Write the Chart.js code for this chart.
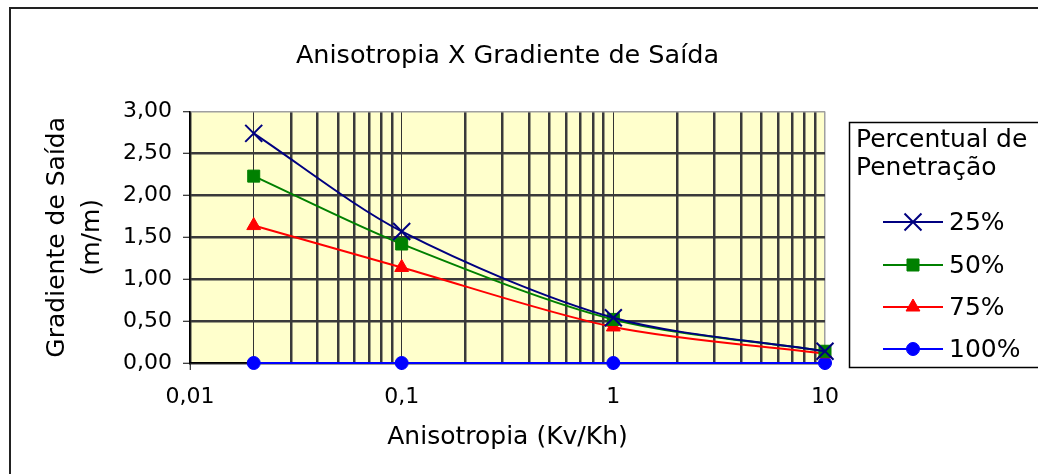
<!DOCTYPE html>
<html>
<head>
<meta charset="utf-8">
<title>Anisotropia X Gradiente de Saída</title>
<script src="https://cdn.jsdelivr.net/npm/chart.js@4/dist/chart.umd.min.js"></script>
<style>
  html, body { margin: 0; padding: 0; background: #fff; }
  #wrap { width: 1038px; height: 474px; }
</style>
</head>
<body>
<div id="wrap"><canvas id="gradChart" width="1038" height="474"></canvas></div>
<script>
// Kv/Kh values and exit gradient (m/m) for each penetration percentage
const anisotropia = [0.02, 0.1, 1, 10];
const grad25 = [2.74, 1.57, 0.54, 0.14];
const grad50 = [2.23, 1.42, 0.52, 0.14];
const grad75 = [1.64, 1.14, 0.43, 0.11];
const grad100 = [0, 0, 0, 0];
const seriesLabels = ['25%', '50%', '75%', '100%'];

// log axis: labelled decades and the minor gridlines between them
const xDecades = [0.01, 0.1, 1, 10];
const xTickLabels = ['0,01', '0,1', '1', '10'];
const xThinLines = [0.02, 0.1, 1];

const FONT = "'DejaVu Sans', Verdana, sans-serif";

function toPoints(ys) {
    return anisotropia.map((x, i) => ({ x: x, y: ys[i] }));
}

function minorTicks() {
    const out = [];
    for (let d = 0; d < xDecades.length - 1; d++) {
        for (let m = 1; m <= 9; m++) {
            out.push(+(xDecades[d] * m).toPrecision(3));
        }
    }
    out.push(xDecades[xDecades.length - 1]);
    return out;
}

function isDecade(v) {
    return xDecades.some(d => Math.abs(d - v) < 1e-9);
}

// Pale yellow plot area + outer frame
const plotBackground = {
    id: 'plotBackground',
    beforeDraw(chart) {
        const { ctx, chartArea: a } = chart;
        ctx.save();
        ctx.fillStyle = '#ffffff';
        ctx.fillRect(0, 0, chart.width, chart.height);
        ctx.fillStyle = '#FFFFCC';
        ctx.fillRect(a.left, a.top, a.right - a.left, a.bottom - a.top);
        ctx.strokeStyle = '#222';
        ctx.lineWidth = 2;
        ctx.strokeRect(10, 8, chart.width + 20, chart.height + 20);
        ctx.restore();
    }
};

// Boxed legend with a two-line heading, line + marker samples
const boxLegend = {
    id: 'boxLegend',
    afterDraw(chart) {
        const ctx = chart.ctx;
        ctx.save();
        ctx.fillStyle = '#fff';
        ctx.fillRect(849.5, 122.5, 220, 245);
        ctx.strokeStyle = '#000';
        ctx.lineWidth = 1.5;
        ctx.strokeRect(849.5, 122.5, 220, 245);

        ctx.fillStyle = '#000';
        ctx.font = '25px ' + FONT;
        ctx.textAlign = 'left';
        ctx.textBaseline = 'middle';
        ctx.fillText('Percentual de', 856, 140);
        ctx.fillText('Penetração', 856, 168);

        const rows = [222, 265, 307, 349];
        chart.data.datasets.forEach((ds, i) => {
            const y = rows[i];
            ctx.strokeStyle = ds.borderColor;
            ctx.lineWidth = 2;
            ctx.beginPath();
            ctx.moveTo(883, y);
            ctx.lineTo(943, y);
            ctx.stroke();
            ctx.fillStyle = ds.pointBackgroundColor;
            ctx.strokeStyle = ds.pointBorderColor;
            ctx.lineWidth = ds.pointBorderWidth;
            Chart.helpers.drawPoint(ctx, {
                pointStyle: ds.pointStyle,
                radius: ds.pointRadius,
                borderWidth: ds.pointBorderWidth,
                rotation: 0
            }, 913, y);
            ctx.fillStyle = '#000';
            ctx.fillText(ds.label, 949, y + 1);
        });
        ctx.restore();
    }
};

function series(label, ys, color, style, radius) {
    return {
        label: label,
        data: toPoints(ys),
        borderColor: color,
        backgroundColor: color,
        borderWidth: 2,
        pointStyle: style,
        pointRadius: radius,
        pointHoverRadius: radius,
        pointBackgroundColor: color,
        pointBorderColor: color,
        pointBorderWidth: style === 'crossRot' ? 2 : 1,
        tension: 0.3,
        clip: false
    };
}

new Chart(document.getElementById('gradChart'), {
    type: 'line',
    data: {
        datasets: [
            series(seriesLabels[0], grad25, '#000080', 'crossRot', 12),
            series(seriesLabels[1], grad50, '#008000', 'rect', 8.5),
            series(seriesLabels[2], grad75, '#FF0000', 'triangle', 8),
            series(seriesLabels[3], grad100, '#0000FF', 'circle', 6.5)
        ]
    },
    options: {
        responsive: false,
        animation: false,
        layout: { padding: { left: 0, right: 213, top: 0, bottom: 0 } },
        plugins: {
            legend: { display: false },
            tooltip: { enabled: false },
            title: {
                display: true,
                fullSize: false,
                text: 'Anisotropia X Gradiente de Saída',
                color: '#000',
                font: { family: FONT, size: 25.5, weight: 'normal', lineHeight: 1.2 },
                padding: { top: 41, bottom: 40 }
            }
        },
        scales: {
            x: {
                type: 'logarithmic',
                min: 0.01,
                max: 10,
                afterBuildTicks: (scale) => {
                    scale.ticks = minorTicks().map(v => ({ value: v }));
                },
                afterFit: (scale) => { scale.height = 111; },
                border: { display: true, color: '#000', width: 1.5 },
                grid: {
                    color: (c) => {
                        const v = c.tick && c.tick.value;
                        if (v === 10) return '#a0a0a0';
                        return xThinLines.includes(v) ? '#333' : '#3a3a3a';
                    },
                    lineWidth: (c) => {
                        const v = c.tick && c.tick.value;
                        if (v === 10) return 1.5;
                        return xThinLines.includes(v) ? 1 : 2.5;
                    },
                    tickColor: (c) => (c.tick && isDecade(c.tick.value)) ? '#000' : 'rgba(0,0,0,0)',
                    tickWidth: 1,
                    tickLength: 7
                },
                ticks: {
                    autoSkip: false,
                    maxRotation: 0,
                    padding: 14,
                    color: '#000',
                    font: { family: FONT, size: 22 },
                    callback: (v) => {
                        const i = xDecades.findIndex(d => Math.abs(d - v) < 1e-9);
                        return i >= 0 ? xTickLabels[i] : '';
                    }
                },
                title: {
                    display: true,
                    text: 'Anisotropia (Kv/Kh)',
                    color: '#000',
                    font: { family: FONT, size: 25, lineHeight: 1.2 },
                    padding: { top: 0, bottom: 22 }
                }
            },
            y: {
                min: 0,
                max: 3,
                afterFit: (scale) => { scale.width = 190; },
                border: { display: true, color: '#000', width: 1.5 },
                grid: {
                    color: (c) => (c.tick && c.tick.value === 3) ? '#a0a0a0' : '#3a3a3a',
                    lineWidth: (c) => (c.tick && c.tick.value === 3) ? 1.5 : 2.5,
                    tickColor: '#000',
                    tickWidth: 1,
                    tickLength: 7
                },
                ticks: {
                    stepSize: 0.5,
                    padding: 11,
                    color: '#000',
                    font: { family: FONT, size: 22 },
                    callback: (v) => v.toFixed(2).replace('.', ',')
                },
                title: {
                    display: true,
                    text: ['Gradiente de Saída', '(m/m)'],
                    color: '#000',
                    font: { family: FONT, size: 25, lineHeight: 1.4 },
                    padding: { top: 40, bottom: 0 }
                }
            }
        }
    },
    plugins: [plotBackground, boxLegend]
});
</script>
</body>
</html>
